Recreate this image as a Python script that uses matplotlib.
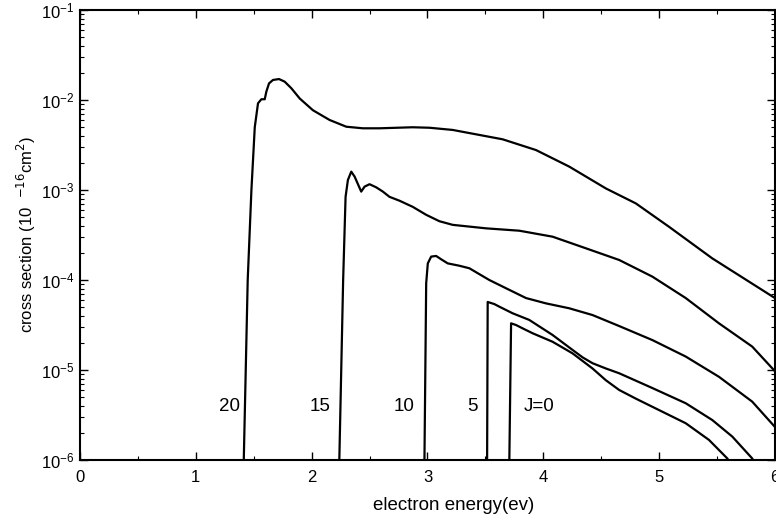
import matplotlib
matplotlib.use('Agg')
import matplotlib.pyplot as plt
import numpy as np
from matplotlib.ticker import MultipleLocator, LogLocator, NullFormatter

plt.rcParams['font.family'] = ['Liberation Sans', 'DejaVu Sans']

# curves: energy (eV), cross section (1e-16 cm^2)
e20 = [1.414, 1.448, 1.480, 1.509, 1.537, 1.566, 1.595, 1.609, 1.632, 1.666,
       1.718, 1.767, 1.825, 1.897, 2.011, 2.155, 2.299, 2.442, 2.586, 2.871,
       3.017, 3.218, 3.649, 3.937, 4.224, 4.541, 4.799, 5.086, 5.459, 6.0]
s20 = [1e-6, 1.0e-4, 1.0e-3, 5.0e-3, 9.2e-3, 1.02e-2, 1.02e-2, 1.24e-2, 1.53e-2, 1.67e-2,
       1.71e-2, 1.60e-2, 1.35e-2, 1.04e-2, 7.7e-3, 6.0e-3, 5.05e-3, 4.85e-3, 4.85e-3, 4.98e-3,
       4.92e-3, 4.65e-3, 3.66e-3, 2.78e-3, 1.82e-3, 1.04e-3, 7.1e-4, 3.9e-4, 1.74e-4, 6.3e-5]

e15 = [2.239, 2.272, 2.293, 2.313, 2.342, 2.371, 2.428, 2.457, 2.500, 2.558,
       2.615, 2.672, 2.759, 2.873, 2.989, 3.103, 3.218, 3.506, 3.793, 4.080,
       4.368, 4.655, 4.942, 5.230, 5.517, 5.804, 6.0]
s15 = [1e-6, 1.0e-4, 8.4e-4, 1.29e-3, 1.6e-3, 1.41e-3, 9.6e-4, 1.09e-3, 1.16e-3, 1.07e-3,
       9.6e-4, 8.4e-4, 7.6e-4, 6.5e-4, 5.3e-4, 4.5e-4, 4.1e-4, 3.75e-4, 3.53e-4, 3.03e-4,
       2.25e-4, 1.67e-4, 1.09e-4, 6.3e-5, 3.3e-5, 1.82e-5, 9.7e-6]

e10 = [2.974, 2.989, 3.003, 3.032, 3.075, 3.118, 3.175, 3.276, 3.362, 3.434,
       3.534, 3.678, 3.851, 4.023, 4.224, 4.425, 4.655, 4.942, 5.230, 5.517,
       5.804, 6.0]
s10 = [1e-6, 9.2e-5, 1.53e-4, 1.82e-4, 1.85e-4, 1.70e-4, 1.53e-4, 1.44e-4, 1.35e-4, 1.19e-4,
       1.0e-4, 8.1e-5, 6.3e-5, 5.5e-5, 4.85e-5, 4.08e-5, 3.08e-5, 2.15e-5, 1.41e-5, 8.4e-6,
       4.45e-6, 2.33e-6]

e5 = [3.515, 3.520, 3.578, 3.621, 3.735, 3.879, 4.080, 4.253, 4.340, 4.425, 4.540, 4.655,
      4.942, 5.230, 5.459, 5.632, 5.804, 5.83]
s5 = [1e-6, 5.7e-5, 5.4e-5, 5.05e-5, 4.27e-5, 3.6e-5, 2.45e-5, 1.67e-5, 1.38e-5, 1.19e-5, 1.04e-5, 9.2e-6,
      6.3e-6, 4.27e-6, 2.78e-6, 1.82e-6, 1.04e-6, 9e-7]

e0 = [3.707, 3.722, 3.765, 3.822, 3.908, 4.080, 4.253, 4.425, 4.540, 4.655, 4.800, 4.942,
      5.230, 5.431, 5.589, 5.62]
s0 = [1e-6, 3.3e-5, 3.16e-5, 2.9e-5, 2.56e-5, 2.06e-5, 1.53e-5, 1.04e-5, 7.7e-6, 6.0e-6, 4.8e-6, 3.9e-6,
      2.56e-6, 1.67e-6, 1.04e-6, 9e-7]

labels = ['20', '15', '10', '5', 'J=0']
label_x = [1.29, 2.07, 2.80, 3.39, 3.96]
label_y = 3.9e-6

fig = plt.figure(figsize=(7.76, 5.22), dpi=100)
ax = fig.add_axes([0.1031, 0.1188, 0.8955, 0.862])

for e, s in [(e20, s20), (e15, s15), (e10, s10), (e5, s5), (e0, s0)]:
    ax.plot(e, s, color='black', lw=1.6)

for lab, lx in zip(labels, label_x):
    ax.text(lx, label_y, lab, fontsize=13.5, ha='center', va='center')

ax.set_yscale('log')
ax.set_xlim(0, 6)
ax.set_ylim(1e-6, 1e-1)
ax.xaxis.set_major_locator(MultipleLocator(1))
ax.xaxis.set_minor_locator(MultipleLocator(0.5))
ax.yaxis.set_major_locator(LogLocator(base=10, numticks=10))
ax.yaxis.set_minor_locator(LogLocator(base=10, subs=np.arange(2, 10), numticks=20))
ax.yaxis.set_minor_formatter(NullFormatter())

ax.tick_params(which='both', direction='in', top=True, right=True, labelsize=12)
ax.tick_params(which='major', length=6, width=1)
ax.tick_params(which='minor', length=3, width=0.8)
ax.tick_params(axis='y', pad=4)
ax.tick_params(axis='x', pad=7)
for sp in ax.spines.values():
    sp.set_linewidth(1.5)

ax.set_xlabel('electron energy(ev)', fontsize=13.5)
ax.xaxis.set_label_coords(0.537, -0.083)
ax.set_ylabel('cross section (10  $^{-16}$cm$^{2}$)', fontsize=12)
ax.yaxis.set_label_coords(-0.061, 0.5)

fig.savefig('out.png', dpi=100)
